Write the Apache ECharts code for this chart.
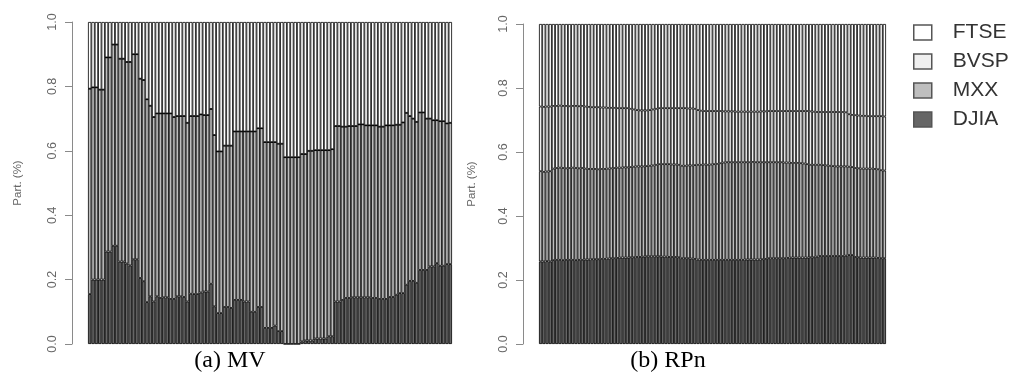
<!DOCTYPE html>
<html><head><meta charset="utf-8">
<script src="https://cdn.jsdelivr.net/npm/echarts@6/dist/echarts.min.js"></script>
<style>html,body{margin:0;padding:0;background:#fff}#c{width:1016px;height:381px}</style>
</head><body><div id="c"></div>
<script>
const seriesNames = ['DJIA', 'MXX', 'BVSP', 'FTSE'];
const legendOrder = ['FTSE', 'BVSP', 'MXX', 'DJIA'];
const panelTitles = ['(a) MV', '(b) RPn'];
const yTicks = [0, 0.2, 0.4, 0.6, 0.8, 1.0];

// Panel (a) MV — weights per period
const mvDJIA = [.155,.2,.2,.2,.2,.287,.287,.305,.305,.256,
.256,.25,.244,.263,.263,.205,.195,.13,.148,.132,
.148,.143,.145,.145,.14,.14,.148,.148,.146,.132,
.156,.155,.155,.16,.163,.163,.187,.117,.096,.096,
.115,.115,.112,.137,.137,.137,.132,.132,.1,.1,
.115,.115,.05,.05,.05,.057,.04,.04,0,0,
0,0,0,.008,.011,.011,.011,.017,.017,.017,
.017,.024,.024,.132,.132,.137,.143,.143,.145,.145,
.145,.145,.145,.145,.143,.143,.14,.14,.14,.146,
.146,.153,.158,.158,.184,.196,.196,.19,.23,.23,
.23,.241,.241,.251,.243,.243,.248,.248];
const mvMXX = [.638,.597,.597,.59,.59,.603,.603,.625,.625,.63,
.63,.626,.632,.637,.637,.619,.625,.63,.592,.573,
.568,.573,.571,.571,.576,.565,.56,.56,.562,.555,
.552,.553,.553,.553,.548,.548,.543,.532,.502,.502,
.501,.501,.504,.523,.523,.523,.528,.528,.56,.56,
.555,.555,.577,.577,.577,.57,.582,.582,.58,.58,
.58,.58,.58,.582,.579,.589,.589,.585,.585,.585,
.585,.578,.581,.545,.545,.538,.532,.534,.532,.532,
.537,.537,.534,.534,.536,.536,.535,.535,.539,.533,
.533,.528,.523,.53,.534,.512,.504,.5,.489,.489,
.47,.459,.454,.444,.449,.449,.437,.439];
const mvBVSP = [0,0,0,0,0,0,0,0,0,0,
0,0,0,0,0,0,0,0,0,0,
0,0,0,0,0,0,0,0,0,0,
0,0,0,0,0,0,0,0,0,0,
0,0,0,0,0,0,0,0,0,0,
0,0,0,0,0,0,0,0,0,0,
0,0,0,0,0,0,0,0,0,0,
0,0,0,0,0,0,0,0,0,0,
0,0,0,0,0,0,0,0,0,0,
0,0,0,0,0,0,0,0,0,0,
0,0,0,0,0,0,0,0];
const mvFTSE = [.207,.203,.203,.21,.21,.11,.11,.07,.07,.114,
.114,.124,.124,.1,.1,.176,.18,.24,.26,.295,
.284,.284,.284,.284,.284,.295,.292,.292,.292,.313,
.292,.292,.292,.287,.289,.289,.27,.351,.402,.402,
.384,.384,.384,.34,.34,.34,.34,.34,.34,.34,
.33,.33,.373,.373,.373,.373,.378,.378,.42,.42,
.42,.42,.42,.41,.41,.4,.4,.398,.398,.398,
.398,.398,.395,.323,.323,.325,.325,.323,.323,.323,
.318,.318,.321,.321,.321,.321,.325,.325,.321,.321,
.321,.319,.319,.312,.282,.292,.3,.31,.281,.281,
.3,.3,.305,.305,.308,.308,.315,.313];

// Panel (b) RPn — weights per period
const rpDJIA = [.258,.258,.259,.258,.262,.263,.263,.262,.263,.263,
.263,.262,.263,.263,.264,.264,.265,.265,.265,.266,
.266,.267,.268,.268,.269,.270,.270,.270,.271,.271,
.272,.272,.273,.274,.274,.274,.274,.274,.273,.273,
.272,.272,.272,.271,.268,.268,.268,.267,.266,.264,
.263,.263,.263,.263,.263,.263,.263,.263,.263,.263,
.263,.263,.263,.263,.264,.264,.264,.264,.264,.265,
.266,.268,.268,.268,.268,.268,.268,.269,.270,.270,
.270,.270,.270,.270,.271,.271,.273,.275,.275,.275,
.275,.275,.275,.275,.275,.276,.278,.278,.272,.271,
.270,.270,.270,.270,.270,.269,.268,.268];
const rpMXX = [.282,.280,.280,.282,.286,.287,.288,.288,.286,.287,
.288,.288,.286,.287,.284,.283,.282,.282,.281,.281,
.281,.281,.281,.282,.282,.281,.282,.282,.282,.283,
.283,.283,.282,.282,.283,.284,.286,.288,.289,.289,
.290,.289,.289,.289,.289,.289,.290,.291,.293,.296,
.297,.298,.297,.298,.299,.300,.302,.304,.305,.305,
.305,.305,.305,.305,.304,.304,.305,.304,.304,.303,
.302,.300,.300,.300,.300,.300,.299,.298,.296,.296,
.296,.295,.294,.292,.289,.289,.287,.285,.284,.283,
.282,.281,.280,.280,.280,.279,.276,.275,.278,.278,
.278,.278,.278,.278,.277,.277,.275,.274];
const rpBVSP = [.202,.203,.203,.202,.196,.194,.194,.194,.195,.193,
.193,.194,.194,.194,.194,.194,.193,.193,.194,.192,
.192,.190,.189,.188,.186,.186,.185,.185,.182,.179,
.176,.175,.175,.174,.174,.175,.175,.175,.175,.175,
.175,.176,.176,.177,.180,.180,.178,.178,.176,.171,
.169,.167,.168,.167,.166,.165,.163,.160,.159,.159,
.159,.158,.158,.158,.158,.158,.157,.158,.158,.159,
.159,.160,.160,.160,.160,.160,.161,.161,.162,.162,
.162,.163,.164,.166,.167,.166,.165,.165,.166,.167,
.168,.169,.170,.170,.170,.169,.164,.163,.165,.165,
.165,.165,.164,.164,.165,.166,.169,.169];
const rpFTSE = [.258,.259,.258,.258,.256,.256,.255,.256,.256,.257,
.256,.256,.257,.256,.258,.259,.260,.260,.260,.261,
.261,.262,.262,.262,.263,.263,.263,.263,.265,.267,
.269,.270,.270,.270,.269,.267,.265,.263,.263,.263,
.263,.263,.263,.263,.263,.263,.264,.264,.265,.269,
.271,.272,.272,.272,.272,.272,.272,.273,.273,.273,
.273,.274,.274,.274,.274,.274,.274,.274,.274,.273,
.273,.272,.272,.272,.272,.272,.272,.272,.272,.272,
.272,.272,.272,.272,.273,.274,.275,.275,.275,.275,
.275,.275,.275,.275,.275,.276,.282,.284,.285,.286,
.287,.287,.288,.288,.288,.288,.288,.289];

const periods = mvDJIA.map((_, i) => String(i + 1));
const colors = { DJIA: '#666666', MXX: '#bebebe', BVSP: '#efefef', FTSE: '#ffffff' };
const panels = [
  { key: 'mv', data: { DJIA: mvDJIA, MXX: mvMXX, BVSP: mvBVSP, FTSE: mvFTSE } },
  { key: 'rp', data: { DJIA: rpDJIA, MXX: rpMXX, BVSP: rpBVSP, FTSE: rpFTSE } }
];

const chart = echarts.init(document.getElementById('c'), null, { renderer: 'canvas' });
const axisGrey = '#8a8a8a';
function yAxis(gridIndex, nameGap) {
  return {
    gridIndex, type: 'value', min: yTicks[0], max: yTicks[yTicks.length - 1], interval: 0.2,
    offset: 16,
    name: 'Part. (%)', nameLocation: 'middle', nameRotate: 90, nameGap,
    nameTextStyle: { color: '#666', fontSize: 11.5, fontFamily: 'Liberation Sans' },
    axisLine: { show: true, lineStyle: { color: axisGrey, width: 1 } },
    axisTick: { show: true, length: 7, lineStyle: { color: axisGrey } },
    axisLabel: { rotate: 90, margin: 13, color: '#666', fontSize: 12.5, fontFamily: 'Liberation Sans',
      formatter: v => v.toFixed(1) },
    splitLine: { show: false }
  };
}
const series = [];
panels.forEach((p, pi) => {
  seriesNames.forEach(n => {
    series.push({
      name: n, type: 'bar', stack: p.key, xAxisIndex: pi, yAxisIndex: pi,
      data: p.data[n], barWidth: '100%', barCategoryGap: '0%',
      itemStyle: { color: colors[n], borderColor: '#000', borderWidth: 0.8 },
      emphasis: { disabled: true }, silent: true
    });
  });
});
chart.setOption({
  animation: false,
  backgroundColor: '#fff',
  grid: [
    { left: 88, top: 22, width: 364, height: 322 },
    { left: 539, top: 24, width: 347, height: 320 }
  ],
  xAxis: [
    { gridIndex: 0, type: 'category', data: periods, show: false },
    { gridIndex: 1, type: 'category', data: periods, show: false }
  ],
  yAxis: [yAxis(0, 48), yAxis(1, 45)],
  title: [
    { text: panelTitles[0], left: 230, top: 349, textAlign: 'center', padding: 0,
      textStyle: { fontFamily: 'Liberation Serif', fontSize: 24, fontWeight: 'normal', color: '#000' } },
    { text: panelTitles[1], left: 668, top: 349, textAlign: 'center', padding: 0,
      textStyle: { fontFamily: 'Liberation Serif', fontSize: 24, fontWeight: 'normal', color: '#000' } }
  ],
  legend: {
    data: legendOrder, orient: 'vertical', left: 913, top: 22, padding: 0,
    icon: 'rect', itemWidth: 18, itemHeight: 15, itemGap: 8,
    itemStyle: { borderColor: '#555', borderWidth: 1.5 },
    textStyle: { fontSize: 21, color: '#333', fontFamily: 'Liberation Sans', padding: [0, 0, 0, 16] },
    selectedMode: false
  },
  series
});
</script>
</body></html>
